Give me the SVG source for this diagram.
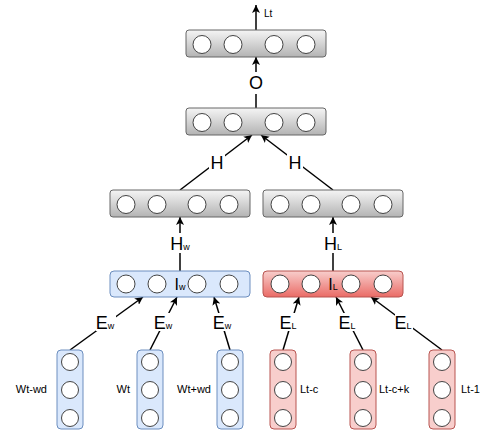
<svg xmlns="http://www.w3.org/2000/svg" width="482" height="435" viewBox="0 0 482 435">
<defs>
<linearGradient id="gGray" x1="0" y1="0" x2="0" y2="1"><stop offset="0" stop-color="#f5f5f5"/><stop offset="1" stop-color="#b3b3b3"/></linearGradient>
<linearGradient id="gRed" x1="0" y1="0" x2="0" y2="1"><stop offset="0" stop-color="#f8cecc"/><stop offset="1" stop-color="#ea6b66"/></linearGradient>
<marker id="arr" viewBox="0 0 10 10" refX="10" refY="5" markerWidth="8" markerHeight="8" markerUnits="userSpaceOnUse" orient="auto"><path d="M0,0 L10,5 L0,10 L2.5,5 Z" fill="#000"/></marker>
<style>
.gray{fill:url(#gGray);stroke:#666;stroke-width:1}
.blue{fill:#dae8fc;stroke:#6c8ebf;stroke-width:1}
.red{fill:url(#gRed);stroke:#b85450;stroke-width:1}
.redc{fill:#f8cecc;stroke:#b85450;stroke-width:1}
.c{fill:#fff;stroke:#444;stroke-width:1}
.e{stroke:#000;stroke-width:1.5;fill:none;marker-end:url(#arr)}
.bg{fill:#fff}
.lb{font-family:"Liberation Sans",Arial,sans-serif;font-size:18px;fill:#000;text-anchor:middle}
.sub{font-size:9px}
.sm{font-family:"Liberation Sans",Arial,sans-serif;font-size:11px;fill:#000}
</style>
</defs>

<g id="connectors">
<line class="e" x1="256" y1="30" x2="256" y2="5"/>
<line class="e" x1="256" y1="108" x2="256" y2="57"/>
<line class="e" x1="180" y1="190" x2="252" y2="135"/>
<line class="e" x1="333" y1="190" x2="261" y2="135"/>
<line class="e" x1="180" y1="271" x2="180" y2="217"/>
<line class="e" x1="333" y1="271" x2="333" y2="217"/>
<line class="e" x1="70" y1="350" x2="143" y2="297"/>
<line class="e" x1="150" y1="350" x2="177" y2="297"/>
<line class="e" x1="230" y1="350" x2="214" y2="297"/>
<line class="e" x1="283" y1="350" x2="299" y2="297"/>
<line class="e" x1="363" y1="350" x2="336" y2="297"/>
<line class="e" x1="442" y1="350" x2="371" y2="297"/>
</g>

<g id="labels">
<text class="sm" x="264" y="17" style="font-size:10px">Lt</text>
<rect class="bg" x="248" y="72" width="16" height="22"/>
<text class="lb" x="256" y="89">O</text>
<rect class="bg" x="209" y="153" width="16" height="18"/>
<text class="lb" x="217" y="169">H</text>
<rect class="bg" x="287" y="153" width="16" height="18"/>
<text class="lb" x="295" y="169">H</text>
<rect class="bg" x="172" y="233" width="20" height="20"/>
<text class="lb" x="180" y="250">H<tspan class="sub">w</tspan></text>
<rect class="bg" x="325" y="233" width="18" height="20"/>
<text class="lb" x="333" y="250">H<tspan class="sub">L</tspan></text>
<rect class="bg" x="96" y="313" width="20" height="18"/>
<text class="lb" x="105" y="329">E<tspan class="sub">w</tspan></text>
<rect class="bg" x="154" y="313" width="20" height="18"/>
<text class="lb" x="163" y="329">E<tspan class="sub">w</tspan></text>
<rect class="bg" x="213" y="313" width="20" height="18"/>
<text class="lb" x="222" y="329">E<tspan class="sub">w</tspan></text>
<rect class="bg" x="280" y="313" width="18" height="18"/>
<text class="lb" x="288" y="329">E<tspan class="sub">L</tspan></text>
<rect class="bg" x="339" y="313" width="18" height="18"/>
<text class="lb" x="347" y="329">E<tspan class="sub">L</tspan></text>
<rect class="bg" x="395" y="313" width="18" height="18"/>
<text class="lb" x="403" y="329">E<tspan class="sub">L</tspan></text>
</g>

<g id="out">
<rect class="gray" x="186" y="30" width="140" height="27" rx="3"/>
<circle class="c" cx="202" cy="44.5" r="9"/><circle class="c" cx="233" cy="44.5" r="9"/><circle class="c" cx="274" cy="44.5" r="9"/><circle class="c" cx="306" cy="44.5" r="9"/>
</g>
<g id="hidden">
<rect class="gray" x="186" y="108" width="140" height="27" rx="3"/>
<circle class="c" cx="202" cy="122.5" r="9"/><circle class="c" cx="233" cy="122.5" r="9"/><circle class="c" cx="274" cy="122.5" r="9"/><circle class="c" cx="306" cy="122.5" r="9"/>
</g>
<g id="hw">
<rect class="gray" x="110" y="190" width="140" height="27" rx="3"/>
<circle class="c" cx="126" cy="204.5" r="9"/><circle class="c" cx="157" cy="204.5" r="9"/><circle class="c" cx="197" cy="204.5" r="9"/><circle class="c" cx="229" cy="204.5" r="9"/>
</g>
<g id="hl">
<rect class="gray" x="263" y="190" width="140" height="27" rx="3"/>
<circle class="c" cx="280" cy="204.5" r="9"/><circle class="c" cx="311" cy="204.5" r="9"/><circle class="c" cx="351" cy="204.5" r="9"/><circle class="c" cx="383" cy="204.5" r="9"/>
</g>
<g id="iw">
<rect class="blue" x="110" y="271" width="140" height="26" rx="4"/>
<circle class="c" cx="126" cy="284" r="9"/><circle class="c" cx="157" cy="284" r="9"/><circle class="c" cx="197" cy="284" r="9"/><circle class="c" cx="229" cy="284" r="9"/>
<text class="lb" x="180" y="290" style="font-size:16px">I<tspan class="sub">w</tspan></text>
</g>
<g id="il">
<rect class="red" x="263" y="271" width="140" height="26" rx="4"/>
<circle class="c" cx="280" cy="284" r="9"/><circle class="c" cx="311" cy="284" r="9"/><circle class="c" cx="351" cy="284" r="9"/><circle class="c" cx="383" cy="284" r="9"/>
<text class="lb" x="333" y="290" style="font-size:16px">I<tspan class="sub">L</tspan></text>
</g>

<g id="w1">
<rect class="blue" x="57" y="350" width="26" height="79" rx="4"/>
<circle class="c" cx="70" cy="362" r="8.5"/><circle class="c" cx="70" cy="390" r="8.5"/><circle class="c" cx="70" cy="418" r="8.5"/>
<text class="sm" x="47" y="393" text-anchor="end">Wt-wd</text>
</g>
<g id="w2">
<rect class="blue" x="137" y="350" width="26" height="79" rx="4"/>
<circle class="c" cx="150" cy="362" r="8.5"/><circle class="c" cx="150" cy="390" r="8.5"/><circle class="c" cx="150" cy="418" r="8.5"/>
<text class="sm" x="130" y="393" text-anchor="end">Wt</text>
</g>
<g id="w3">
<rect class="blue" x="217" y="350" width="26" height="79" rx="4"/>
<circle class="c" cx="230" cy="362" r="8.5"/><circle class="c" cx="230" cy="390" r="8.5"/><circle class="c" cx="230" cy="418" r="8.5"/>
<text class="sm" x="211" y="393" text-anchor="end">Wt+wd</text>
</g>
<g id="l1">
<rect class="redc" x="270" y="350" width="26" height="79" rx="4"/>
<circle class="c" cx="283" cy="362" r="8.5"/><circle class="c" cx="283" cy="390" r="8.5"/><circle class="c" cx="283" cy="418" r="8.5"/>
<text class="sm" x="300" y="393">Lt-c</text>
</g>
<g id="l2">
<rect class="redc" x="350" y="350" width="26" height="79" rx="4"/>
<circle class="c" cx="363" cy="362" r="8.5"/><circle class="c" cx="363" cy="390" r="8.5"/><circle class="c" cx="363" cy="418" r="8.5"/>
<text class="sm" x="379" y="393">Lt-c+k</text>
</g>
<g id="l3">
<rect class="redc" x="429" y="350" width="26" height="79" rx="4"/>
<circle class="c" cx="442" cy="362" r="8.5"/><circle class="c" cx="442" cy="390" r="8.5"/><circle class="c" cx="442" cy="418" r="8.5"/>
<text class="sm" x="461" y="393">Lt-1</text>
</g>
</svg>
